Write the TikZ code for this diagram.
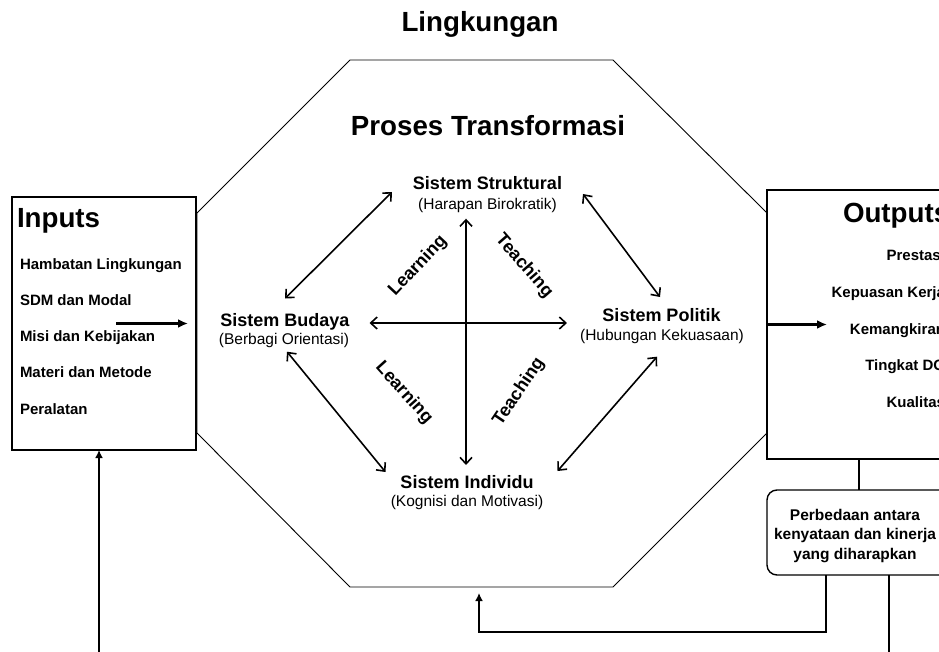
\documentclass[tikz,border=0pt]{standalone}
\usepackage{fontspec}
\setmainfont{Liberation Sans}
\usetikzlibrary{arrows.meta,calc}

\begin{document}
\begin{tikzpicture}[x=1pt,y=-1pt,
  every node/.style={inner sep=0pt, outer sep=0pt},
  big/.style={font=\fontsize{27.7}{30}\selectfont\bfseries},
  item/.style={font=\fontsize{15}{18}\selectfont\bfseries, anchor=base west},
  oitem/.style={font=\fontsize{15}{18}\selectfont\bfseries, anchor=base east},
  systitle/.style={font=\fontsize{18}{20}\selectfont\bfseries, anchor=base, text height=13pt, text depth=0pt},
  syssub/.style={font=\fontsize{15.5}{18}\selectfont, anchor=base},
  flow/.style={font=\fontsize{18}{20}\selectfont\bfseries},
  panel/.style={draw, line width=1.4pt, fill=white, anchor=north west},
  octline/.style={line width=0.9pt},
  biarrow/.style={line width=1.6pt,
    {Straight Barb[length=6.5pt,width=12pt]}-{Straight Barb[length=6.5pt,width=12pt]}},
  feed/.style={line width=2.8pt},
  feedtip/.style={-{Latex[length=8pt,width=8pt]}},
  thickarrow/.style={line width=2.6pt, -{Latex[length=10pt,width=9pt]}}
]
\useasboundingbox (0,0) rectangle (939,652);
\clip (0,0) rectangle (939,652);
\fill[white] (0,0) rectangle (939,652);

% environment and transformation octagon
\node[big] (env) at (480,24) {Lingkungan};
\draw[octline] (350,60) coordinate (o1) -- (613,60) coordinate (o2)
  -- (767,213) coordinate (o3) -- (767,433) coordinate (o4)
  -- (613,587) coordinate (o5) -- (350,587) coordinate (o6)
  -- (197,433) coordinate (o7) -- (197,213) coordinate (o8) -- cycle;
\node[big] (proc) at (488,126) {Proses Transformasi};

% inputs panel
\node[panel, minimum width=184pt, minimum height=253pt] (inputs) at (12,197) {};
\node[big, anchor=base west] (intitle) at (17,228) {Inputs};
\node[item] (in1) at (20,269.5) {Hambatan Lingkungan};
\node[item] (in2) at (20,305.5) {SDM dan Modal};
\node[item] (in3) at (20,341.5) {Misi dan Kebijakan};
\node[item] (in4) at (20,377.5) {Materi dan Metode};
\node[item] (in5) at (20,414.5) {Peralatan};

% outputs panel
\node[panel, minimum width=184pt, minimum height=269pt] (outputs) at (767,190) {};
\node[big, anchor=base west] (outtitle) at (843,223) {Outputs};
\node[oitem] (out1) at (945,261) {Prestasi};
\node[oitem] (out2) at (945,297.5) {Kepuasan Kerja};
\node[oitem] (out3) at (945,334) {Kemangkiran};
\node[oitem] (out4) at (945,370.5) {Tingkat DO};
\node[oitem] (out5) at (945,407) {Kualitas};

% gap between reality and expectation
\node[panel, rounded corners=10pt, minimum width=184pt, minimum height=85pt] (diff) at (767,490) {};
\node[font=\fontsize{15.5}{19.5}\selectfont\bfseries, align=center] (difftext) at (855,536)
  {Perbedaan antara\\kenyataan dan kinerja\\yang diharapkan};

% the four subsystems
\node[systitle] (struk) at (487.5,189.5) {Sistem Struktural};
\node[syssub] (strukS) at (487.5,209.5) {(Harapan Birokratik)};
\node[systitle] (budaya) at (285,326.5) {Sistem Budaya};
\node[syssub] (budayaS) at (284,344.5) {(Berbagi Orientasi)};
\node[systitle] (politik) at (661.5,321.5) {Sistem Politik};
\node[syssub] (politikS) at (662,340.5) {(Hubungan Kekuasaan)};
\node[systitle] (individu) at (467,488.5) {Sistem Individu};
\node[syssub] (individuS) at (467,506.5) {(Kognisi dan Motivasi)};

% relations between subsystems
\draw[biarrow] ([shift={(-21,9)}]struk.west) -- ([shift={(0,-15)}]budaya.north);
\draw[biarrow] ([shift={(21,11)}]struk.east) -- ([shift={(-1.5,-11.5)}]politik.north);
\draw[biarrow] ([shift={(3,4)}]budayaS.south) -- ([shift={(-15,-10)}]individu.west);
\draw[biarrow] ([shift={(-5,13)}]politikS.south) -- ([shift={(24,-11)}]individu.east);
\draw[biarrow] ([shift={(20,3)}]budaya.east) -- ([shift={(-35.5,8)}]politik.west);
\draw[biarrow] ([shift={(-21.5,6)}]strukS.south) -- ([shift={(-1,-10.5)}]individu.north);

\node[flow, rotate=47] (learn1) at (418,266) {Learning};
\node[flow, rotate=-49] (teach1) at (524,266) {Teaching};
\node[flow, rotate=-48] (learn2) at (404,393) {Learning};
\node[flow, rotate=56] (teach2) at (519,392) {Teaching};

% flow into and out of the process
\draw[thickarrow] ([xshift=-80pt]inputs.east) -- ([xshift=-8pt]inputs.east);
\draw[thickarrow] (outputs.west) -- ([xshift=60pt]outputs.west);

% feedback loops
\coordinate (turn) at (479,632);
\coordinate (octin) at (479,593);
\coordinate (exitL) at (99,665);
\draw[feed] (outputs.south) -- (diff.north);
\draw[feed, feedtip] ([xshift=-33pt]diff.south) |- (turn) -- (octin);
\draw[feed] ([xshift=30pt]diff.south) -- ++(0,90);
\draw[feed, feedtip] (exitL) -- (exitL |- inputs.south);
\end{tikzpicture}
\end{document}
